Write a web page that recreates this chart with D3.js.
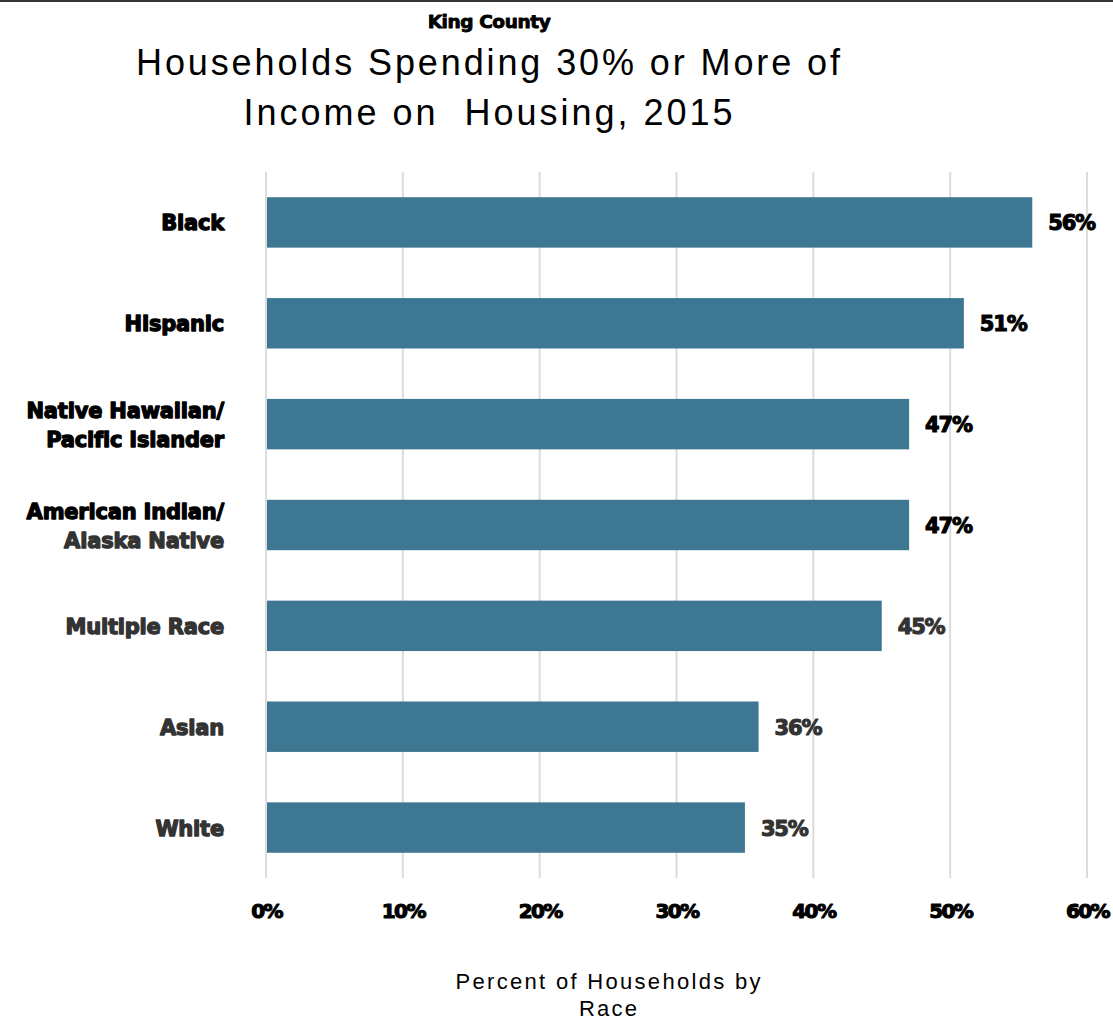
<!DOCTYPE html>
<html>
<head>
<meta charset="utf-8">
<script src="https://cdn.jsdelivr.net/npm/d3@7"></script>
<style>
  html, body { margin: 0; padding: 0; background: #fff; }
  svg { display: block; }
</style>
</head>
<body>
<script>
// Share of households spending 30%+ of income on housing, King County 2015
const categories = [
  ["Black"],
  ["Hispanic"],
  ["Native Hawaiian/", "Pacific Islander"],
  ["American Indian/", "Alaska Native"],
  ["Multiple Race"],
  ["Asian"],
  ["White"]
];
const values = [56, 51, 47, 47, 45, 36, 35];
const tickValues = [0, 10, 20, 30, 40, 50, 60];
const tickLabels = ["0%", "10%", "20%", "30%", "40%", "50%", "60%"];

const W = 1113, H = 1021;
const heavy = "'DejaVu Sans', 'Liberation Sans', Arial, sans-serif";
const plain = "'Liberation Sans', Arial, sans-serif";

const svg = d3.select("body").append("svg")
  .attr("width", W).attr("height", H);

// top rule
svg.append("line")
  .attr("x1", 0).attr("x2", W).attr("y1", 1).attr("y2", 1)
  .attr("stroke", "#333").attr("stroke-width", 2);

const x = d3.scaleLinear().domain([0, 60]).range([266, 1087]);
const y = d3.scaleBand()
  .domain(d3.range(categories.length))
  .range([172, 878])
  .paddingInner(0.5).paddingOuter(0.25);

// heavy text: bold face thickened with a same-colour outline
function boldify(sel, color, w) {
  return sel.attr("font-family", heavy).attr("font-weight", "bold")
    .attr("fill", color).attr("stroke", color)
    .attr("stroke-width", w).attr("stroke-linejoin", "round");
}

// vertical grid
svg.append("g").selectAll("line")
  .data(tickValues).join("line")
  .attr("x1", d => x(d)).attr("x2", d => x(d))
  .attr("y1", 172).attr("y2", 878)
  .attr("stroke", "#dcdcdc").attr("stroke-width", 2);

// bars
svg.append("g").selectAll("rect")
  .data(values).join("rect")
  .attr("x", x(0) + 1)
  .attr("y", (d, i) => y(i))
  .attr("width", d => x(d) - x(0) - 1)
  .attr("height", y.bandwidth())
  .attr("fill", "#3e7792");

// value labels
svg.append("g").selectAll("text")
  .data(values).join("text")
  .attr("x", d => x(d) + 16)
  .attr("y", (d, i) => y(i) + y.bandwidth() / 2 + 8)
  .attr("font-size", 21).attr("letter-spacing", -1.2)
  .each(function(d, i) { boldify(d3.select(this), i < 4 ? "#000" : "#333", 1.1); })
  .text(d => d + "%");

// category labels
const lineColors = [["#000"], ["#000"], ["#000", "#000"], ["#000", "#333"], ["#333"], ["#333"], ["#333"]];
const cat = svg.append("g").selectAll("text")
  .data(categories).join("text")
  .attr("text-anchor", "end")
  .attr("font-family", heavy).attr("font-weight", "bold")
  .attr("font-size", 21).attr("letter-spacing", -0.2)
  .attr("y", (d, i) => y(i) + y.bandwidth() / 2);
cat.each(function(lines, i) {
  const t = d3.select(this);
  const n = lines.length;
  lines.forEach((s, k) => {
    const ts = t.append("tspan")
      .attr("x", 224)
      .attr("dy", k === 0 ? (n === 1 ? 8 : -6) : 29)
      .text(s);
    boldify(ts, lineColors[i][k], 1.3);
  });
});

// x axis tick labels
const axis = d3.axisBottom(x).tickValues(tickValues)
  .tickFormat((d, i) => tickLabels[i]).tickSize(0).tickPadding(0);
const gx = svg.append("g").attr("transform", "translate(0,904)").call(axis);
gx.select(".domain").remove();
gx.selectAll("text")
  .attr("font-size", 20).attr("letter-spacing", -1.6)
  .each(function() { boldify(d3.select(this), "#000", 1.1); });

// titles
boldify(svg.append("text")
  .attr("x", 489).attr("y", 28)
  .attr("text-anchor", "middle")
  .attr("font-size", 18.5).attr("letter-spacing", -0.4), "#000", 0.9)
  .text("King County");

const titleLines = ["Households Spending 30% or More of", "Income on  Housing, 2015"];
const titleWidths = [704, 489];
svg.append("g").selectAll("text")
  .data(titleLines).join("text")
  .attr("x", 488)
  .attr("y", (d, i) => 75 + i * 50)
  .attr("text-anchor", "middle")
  .attr("font-family", plain)
  .attr("font-size", 36)
  .attr("textLength", (d, i) => titleWidths[i])
  .attr("lengthAdjust", "spacing")
  .attr("fill", "#000")
  .style("white-space", "pre")
  .text(d => d);

const axisTitle = ["Percent of Households by", "Race"];
const axisWidths = [305, 58];
svg.append("g").selectAll("text")
  .data(axisTitle).join("text")
  .attr("x", 608)
  .attr("y", (d, i) => 989 + i * 27)
  .attr("text-anchor", "middle")
  .attr("font-family", plain)
  .attr("font-size", 22)
  .attr("textLength", (d, i) => axisWidths[i])
  .attr("lengthAdjust", "spacing")
  .attr("fill", "#000")
  .text(d => d);
</script>
</body>
</html>
